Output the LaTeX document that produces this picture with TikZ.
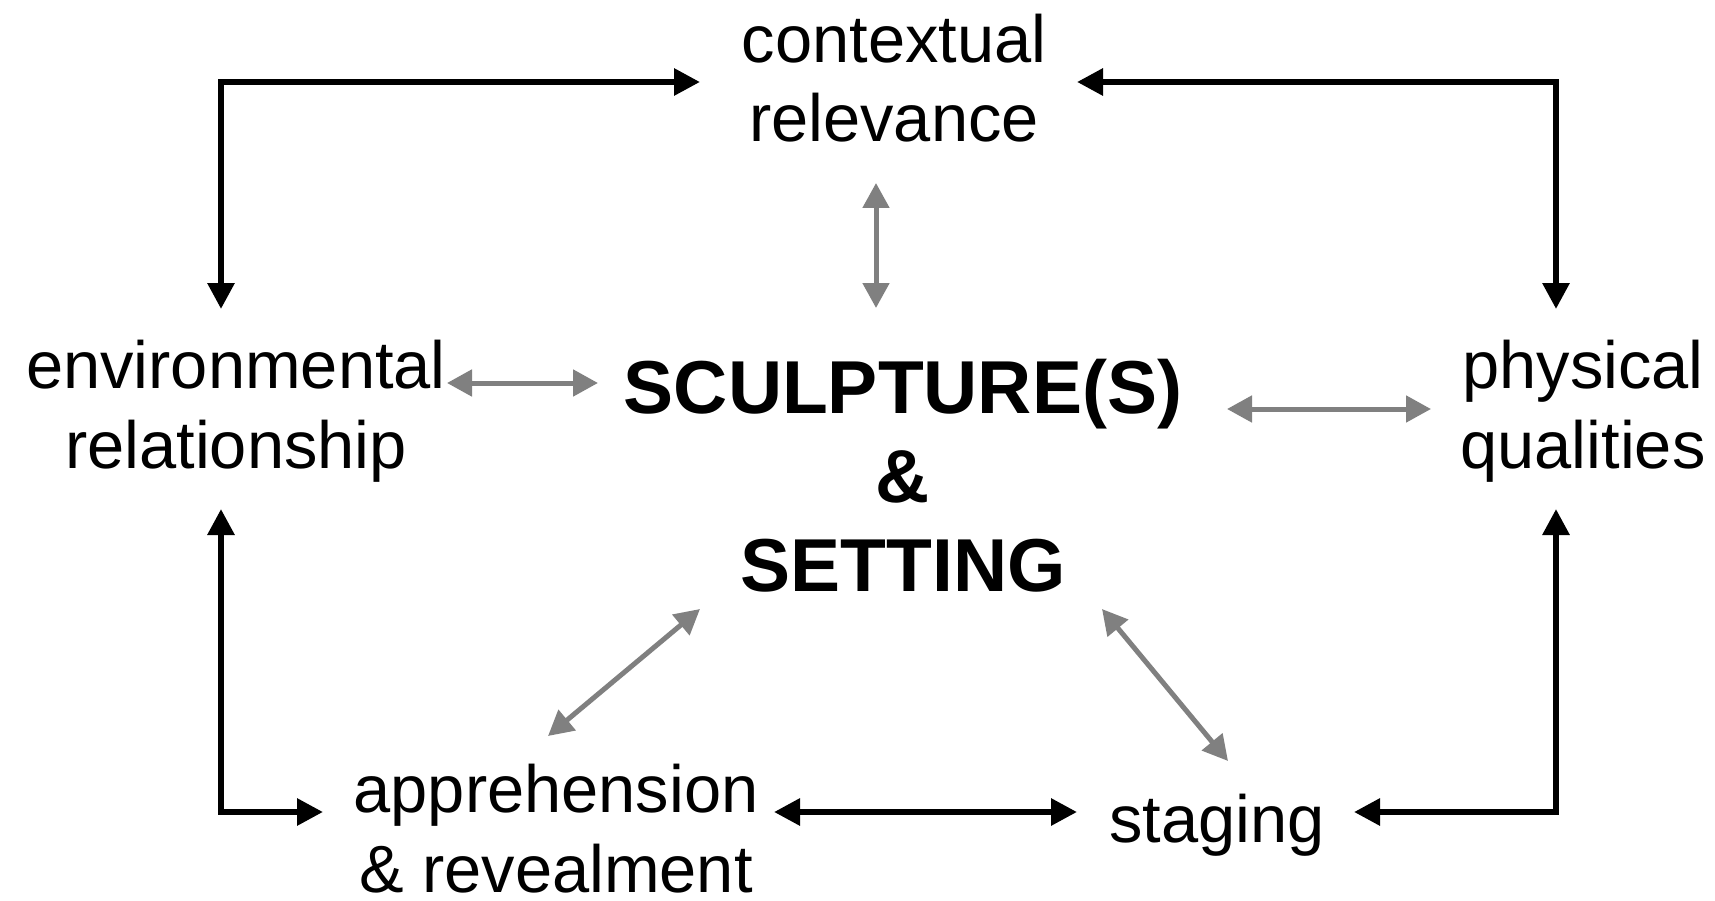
\documentclass[tikz,border=0pt]{standalone}
\usepackage{fontspec}
\setmainfont{Liberation Sans}
\usetikzlibrary{arrows.meta}
\definecolor{linkgray}{HTML}{808080}
\begin{document}
\begin{tikzpicture}[x=1pt,y=-1pt,
  term/.style={font=\fontsize{66.8}{79.5}\selectfont, align=center, inner sep=0pt, anchor=base},
  hub/.style={font=\fontsize{75}{89}\selectfont\bfseries, align=center, inner sep=0pt, anchor=base},
  outer/.style={line width=6pt, draw=black,
    {Triangle[length=26pt,width=26pt]}-{Triangle[length=26pt,width=26pt]}},
  inner/.style={line width=5pt, draw=linkgray,
    {Triangle[length=25pt,width=26pt]}-{Triangle[length=25pt,width=26pt]}}]
\useasboundingbox (0,0) rectangle (1715,901);

% labels (placed by the baseline of their last line)
\node[term] (ctx)  at (894,142)  {contextual\\relevance};
\node[term] (env)  at (236,468)  {environmental\\relationship};
\node[term] (phys) at (1583,468) {physical\\qualities};
\node[term] (appr) at (556,892)  {apprehension\\\& revealment};
\node[term] (stag) at (1217,842) {staging};
\node[hub]  (core) at (903,591)  {SCULPTURE(S)\\\&\\SETTING};

% connector end points
\coordinate (ctxW)   at (700,82);
\coordinate (ctxE)   at (1077,82);
\coordinate (ctxS)   at (876,183);
\coordinate (envN)   at (221,309);
\coordinate (envS)   at (221,509);
\coordinate (envE)   at (447,383);
\coordinate (physN)  at (1556,309);
\coordinate (physS)  at (1556,509);
\coordinate (physW)  at (1431,409);
\coordinate (apprW)  at (323,812);
\coordinate (apprE)  at (774,812);
\coordinate (apprNE) at (548,736);
\coordinate (stagW)  at (1077,812);
\coordinate (stagE)  at (1354,812);
\coordinate (stagN)  at (1228,761);
\coordinate (coreN)  at (876,308);
\coordinate (coreW)  at (598,383);
\coordinate (coreE)  at (1227,409);
\coordinate (coreSW) at (700,609);
\coordinate (coreSE) at (1102,609);

% outer ring of relations
\draw[outer] (envN) |- (ctxW);
\draw[outer] (physN) |- (ctxE);
\draw[outer] (envS) |- (apprW);
\draw[outer] (physS) |- (stagE);
\draw[outer] (apprE) -- (stagW);

% links to the centre
\draw[inner] (ctxS) -- (coreN);
\draw[inner] (envE) -- (coreW);
\draw[inner] (coreE) -- (physW);
\draw[inner] (apprNE) -- (coreSW);
\draw[inner] (coreSE) -- (stagN);
\end{tikzpicture}
\end{document}
